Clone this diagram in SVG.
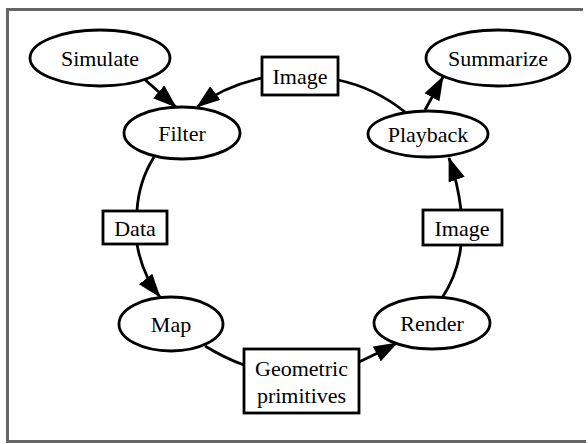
<svg xmlns="http://www.w3.org/2000/svg" width="588" height="444" viewBox="0 0 588 444">
<defs>
<marker id="ah" viewBox="0 0 24 17" refX="23" refY="8.5" markerWidth="24" markerHeight="17" markerUnits="userSpaceOnUse" orient="auto">
<path d="M0,0 L24,8.5 L0,17 Z" fill="#000"/>
</marker>
</defs>
<style>
.frame{fill:none;stroke:#666;stroke-width:3}
.n{fill:#fff;stroke:#000;stroke-width:2.8}
.t{font-family:"Liberation Serif","Times New Roman",serif;font-size:22px;fill:#000;text-anchor:middle;dominant-baseline:central}
.e{fill:none;stroke:#000;stroke-width:2.8}
.a{marker-end:url(#ah)}
</style>
<rect x="0" y="0" width="588" height="444" fill="#fff"/>
<path class="frame" d="M583,9.5 H7.5 V441.5 H586"/>
<g id="connectors">
<path class="e a" d="M143,78 L176,107"/>
<path class="e a" d="M262,78 C238,83 214,94 197,107"/>
<path class="e" d="M154,157 C144,173 138,192 137,211"/>
<path class="e a" d="M137,244 C140,262 148,282 160,297"/>
<path class="e" d="M205,346 C218,354 230,360 244,365"/>
<path class="e a" d="M359,362 C372,356 384,350 397,343"/>
<path class="e" d="M442,298 C452,283 459,264 461,245"/>
<path class="e a" d="M461,210 C459,193 455,175 449,158"/>
<path class="e" d="M405,112 C385,96 362,85 338,80"/>
<path class="e a" d="M425,110 L443,77"/>
</g>
<g id="simulate"><ellipse class="n" cx="100" cy="58" rx="70" ry="28"/><text class="t" x="100" y="58">Simulate</text></g>
<g id="filter"><ellipse class="n" cx="182" cy="133" rx="58" ry="26"/><text class="t" x="182" y="133">Filter</text></g>
<g id="image1"><rect class="n" x="262" y="57" width="76" height="38"/><text class="t" x="300" y="76">Image</text></g>
<g id="summarize"><ellipse class="n" cx="498" cy="58" rx="72" ry="28"/><text class="t" x="498" y="58">Summarize</text></g>
<g id="playback"><ellipse class="n" cx="428" cy="134" rx="60" ry="23"/><text class="t" x="428" y="134">Playback</text></g>
<g id="data"><rect class="n" x="103" y="211" width="64" height="33"/><text class="t" x="135" y="228">Data</text></g>
<g id="image2"><rect class="n" x="423" y="210" width="79" height="35"/><text class="t" x="462" y="228">Image</text></g>
<g id="map"><ellipse class="n" cx="171" cy="324" rx="52" ry="27"/><text class="t" x="171" y="324">Map</text></g>
<g id="render"><ellipse class="n" cx="432" cy="323" rx="58" ry="26"/><text class="t" x="432" y="323">Render</text></g>
<g id="geometric"><rect class="n" x="244" y="349" width="115" height="64"/><text class="t" x="301.5" y="368">Geometric</text><text class="t" x="301.5" y="395">primitives</text></g>
</svg>
